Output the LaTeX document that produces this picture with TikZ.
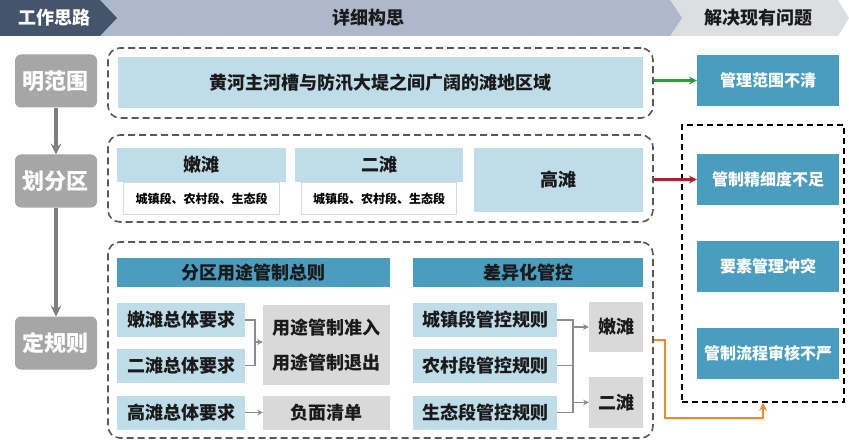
\documentclass[tikz,border=0pt]{standalone}
\usepackage{fontspec}
\setmainfont{Noto Sans CJK SC}
\usetikzlibrary{arrows, positioning}
\definecolor{navy}{HTML}{44546A}
\definecolor{bandblue}{HTML}{ADB9CA}
\definecolor{bandgray}{HTML}{DDDEE0}
\definecolor{stagegray}{HTML}{A6A6A6}
\definecolor{dashgray}{HTML}{595959}
\definecolor{lightblue}{HTML}{BEDDE8}
\definecolor{steelblue}{HTML}{4B9DC0}
\definecolor{boxgray}{HTML}{D9D9D9}
\definecolor{linkgray}{HTML}{8C8C8C}
\definecolor{stemgray}{HTML}{7F7F7F}
\definecolor{textdark}{HTML}{1A1A1A}
\definecolor{greenline}{HTML}{2E9B3A}
\definecolor{redline}{HTML}{B0202A}
\definecolor{orangeline}{HTML}{ED8B2E}
\tikzstyle{arrow} = [thick,->,>=stealth]
\tikzstyle{stage} = [rectangle, rounded corners=6pt, fill=stagegray, text=white, minimum width=82pt, minimum height=53pt, font=\fontsize{22}{24}\selectfont\bfseries]
\tikzstyle{zone} = [rectangle, rounded corners=12pt, draw=dashgray, line width=1.6pt, dash pattern=on 7pt off 4pt]
\tikzstyle{lightbox} = [rectangle, fill=lightblue, text=textdark, inner sep=0pt, font=\fontsize{18}{22}\selectfont\bfseries]
\tikzstyle{issue} = [rectangle, fill=steelblue, text=white, minimum width=142pt, minimum height=51pt, font=\fontsize{16}{20}\selectfont\bfseries]
\tikzstyle{header} = [rectangle, fill=steelblue, text=textdark, minimum height=29pt, font=\fontsize{18}{22}\selectfont\bfseries]
\tikzstyle{graybox} = [rectangle, fill=boxgray, text=textdark, inner sep=0pt, font=\fontsize{18}{22}\selectfont\bfseries]
\tikzstyle{subbox} = [rectangle, fill=white, draw=boxgray, minimum height=32pt, font=\fontsize{12}{14}\selectfont\bfseries]
\tikzstyle{link} = [line width=1.5pt, draw=linkgray, >=stealth]
\begin{document}
\begin{tikzpicture}[x=1pt, y=-1pt]
\useasboundingbox (0,0) rectangle (849,441);
\fill[white] (0,0) rectangle (849,441);
% Title band
\fill[bandgray] (660,0) -- (838,0) -- (849,18) -- (838,36) -- (660,36) -- cycle;
\fill[bandblue] (90,0) -- (670,0) -- (682,18) -- (670,36) -- (90,36) -- cycle;
\fill[navy] (0,0) -- (100,0) -- (117,18) -- (100,36) -- (0,36) -- cycle;
\node (tagWork) [text=white, font=\fontsize{18}{22}\selectfont\bfseries] at (54,18) {工作思路};
\node (tagIdea) [text=textdark, font=\fontsize{18}{22}\selectfont\bfseries] at (368,18) {详细构思};
\node (tagSolve) [text=textdark, font=\fontsize{18}{22}\selectfont\bfseries] at (758,18) {解决现有问题};

% Placement of nodes
\node (scope) [stage] at (56,81) {明范围};
\node (divide) [stage] at (56,181) {划分区};
\node (rules) [stage] at (56,343) {定规则};

\node (zoneA) [zone, minimum width=545pt, minimum height=70pt] at (380.5,83) {};
\node (zoneB) [zone, minimum width=545pt, minimum height=87pt] at (380.5,178.5) {};
\node (zoneC) [zone, minimum width=545pt, minimum height=196pt] at (380.5,340) {};
\node (issues) [rectangle, draw=black, line width=1.8pt, dash pattern=on 6pt off 4pt, minimum width=162pt, minimum height=277pt] at (763,263.5) {};

\node (area) [lightbox, minimum width=525pt, minimum height=51pt] at (380.5,82.5) {黄河主河槽与防汛大堤之间广阔的滩地区域};
\node (vague) [issue] at (768,80.5) {管理范围不清};

\node (tenderHead) [lightbox, minimum width=169pt, minimum height=34pt] at (201.5,165) {嫩滩};
\node (tenderSub) [subbox, minimum width=156pt, below=0pt of tenderHead] {城镇段、农村段、生态段};
\node (secondHead) [lightbox, minimum width=168pt, minimum height=34pt] at (379,165) {二滩};
\node (secondSub) [subbox, minimum width=155pt, below=0pt of secondHead] {城镇段、农村段、生态段};
\node (high) [lightbox, minimum width=169pt, minimum height=64pt] at (558.5,180) {高滩};

\node (coarse) [issue] at (768,179.5) {管制精细度不足};
\node (clash) [issue] at (768,266) {要素管理冲突};
\node (loose) [issue] at (768,353.5) {管制流程审核不严};

\node (useHead) [header, minimum width=273pt] at (253.5,272.5) {分区用途管制总则};
\node (reqTender) [lightbox, minimum width=128pt, minimum height=34pt] at (181,320) {嫩滩总体要求};
\node (reqSecond) [lightbox, minimum width=128pt, minimum height=34pt] at (181,365.5) {二滩总体要求};
\node (reqHigh) [lightbox, minimum width=128pt, minimum height=34pt] at (181,412.5) {高滩总体要求};
\node (permit) [graybox, minimum width=127pt, minimum height=80pt, align=center, font=\fontsize{18}{35}\selectfont\bfseries] at (326.5,345) {用途管制准入\\用途管制退出};
\node (negative) [graybox, minimum width=127pt, minimum height=34pt] at (326.5,412.5) {负面清单};

\node (diffHead) [header, minimum width=230pt] at (528,272.5) {差异化管控};
\node (ruleTown) [lightbox, minimum width=144pt, minimum height=34pt] at (485,320) {城镇段管控规则};
\node (ruleRural) [lightbox, minimum width=144pt, minimum height=34pt] at (485,365.5) {农村段管控规则};
\node (ruleEco) [lightbox, minimum width=144pt, minimum height=34pt] at (485,412.5) {生态段管控规则};
\node (tenderBox) [graybox, minimum width=54pt, minimum height=50pt] at (616,327) {嫩滩};
\node (secondBox) [graybox, minimum width=54pt, minimum height=51pt] at (616,402.5) {二滩};

\coordinate (joinUse) at (255,342);
\coordinate (joinDiff) at (573,365.5);
\coordinate (turn) at (665,418);

% Placement of edges
\draw [arrow, line width=3.6pt, draw=stemgray] (scope) -- (divide);
\draw [arrow, line width=3.6pt, draw=stemgray] (divide) -- (rules);

\draw [arrow, line width=2.4pt, draw=greenline] (zoneA.east |- vague) -- (vague);
\draw [arrow, line width=2.4pt, draw=redline] (zoneB.east |- coarse) -- (coarse);

\draw [link] (reqTender.east) -| (joinUse) |- (reqSecond.east);
\draw [link, ->] (joinUse) -- (permit.west |- joinUse);
\draw [link, ->] (reqHigh) -- (negative);

\draw [link] (ruleTown.east) -| (joinDiff) |- (ruleEco.east);
\draw [link] (ruleRural.east) -- (joinDiff);
\draw [link, ->] (tenderBox.west -| joinDiff) -- (tenderBox.west);
\draw [link, ->] (secondBox.west -| joinDiff) -- (secondBox.west);

% back to the issues
\draw [arrow, line width=2.4pt, draw=orangeline] (zoneC.east) -| (turn) -| (issues.south);

\end{tikzpicture}
\end{document}
